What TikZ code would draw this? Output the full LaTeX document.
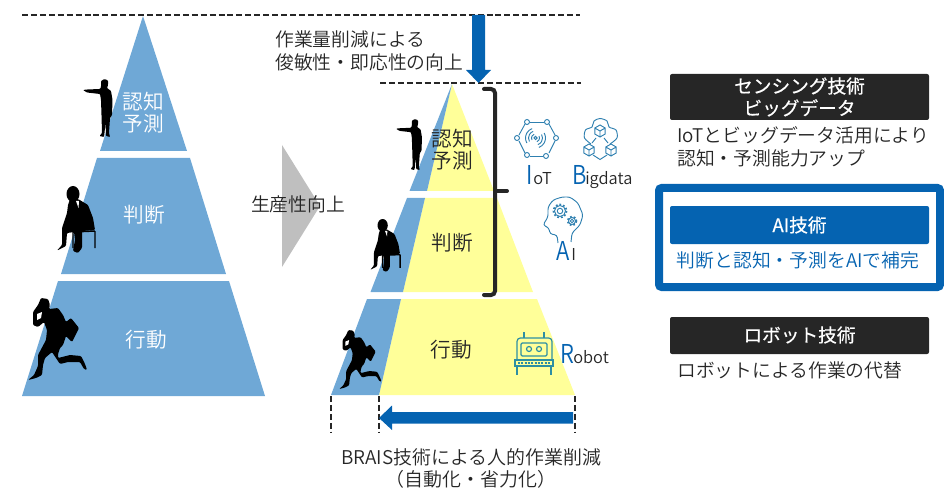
\documentclass[tikz,border=0pt]{standalone}
\usepackage{fontspec}
\setmainfont{Noto Sans CJK JP DemiLight}
\newfontfamily\medfont[FakeBold=0.5]{Noto Sans CJK JP}
\usetikzlibrary{arrows.meta}
\definecolor{pyblue}{HTML}{6FA8D6}
\definecolor{pyyellow}{HTML}{FFFF99}
\definecolor{brblue}{HTML}{0563B1}
\definecolor{ink}{HTML}{262626}
\definecolor{icon}{HTML}{2F80B0}
\definecolor{tealicon}{HTML}{2E8FA3}
\definecolor{arrowgray}{HTML}{BFBFBF}
\newcommand{\pointman}{%
  \fill[black,rounded corners=0.6pt] (83,90)--(87,89.5)--(100,89)--(101,87)--(101,81)--(104.5,79)--(108,80.5)--(108,85)--(107,88)--(111,91)--(112.5,100)--(112,115)--(110,118)--(109,133)--(110,137)--(106,136)--(105.5,122)--(104.5,133)--(104,137)--(99.5,136)--(102,133)--(101.5,115)--(101,100)--(100,94)--(87,92.5)--cycle;}
\newcommand{\sitman}{%
  \fill[black] (73,194) ellipse [x radius=6.5,y radius=8];
  \fill[black,rounded corners=0.8pt] (70,199)--(78,199)--(88,205)--(93,218)--(95,230)--(82,231)--(82,248)--(78,253)--(73,251)--(75,240)--(74,232)--(67,233)--(66,246)--(57,250.5)--(62,245)--(62,228)--(67,213)--(68,205)--cycle;
  \draw[black,line width=1.1pt] (73,232)--(73,248) (95,231)--(95,248) (73,232)--(95,231);
  \fill[white] (76,201)--(79,201)--(78.5,208)--cycle;}
\newcommand{\runman}{%
  \fill[black,rounded corners=0.8pt] (41,298)--(48,299)--(50,305)--(49,309)--(58,308)--(63,315)--(66,322)--(71,318)--(79,328)--(72,342)--(66,336)--(63,345)--(60,348)--(58,354)--(58,358)--(70,355)--(81,356)--(85,364)--(87,370)--(84,369)--(80,362)--(68,362)--(60,364)--(56,358)--(52,352)--(45,358)--(43,365)--(42,375)--(36,378)--(28,380)--(34,375)--(38,366)--(38,355)--(46,340)--(47,330)--(44,322)--(38,327)--(33,325)--(33,312)--(38,305)--cycle;
  \fill[white] (37,314)--(42,312)--(41,318)--(37,320)--cycle;}
\newcommand{\cubeicon}[2]{%
  \begin{scope}[shift={(#1,#2)}]
  \draw (0,-6)--(5.2,-3)--(5.2,3)--(0,6)--(-5.2,3)--(-5.2,-3)--cycle (0,0)--(0,6) (0,0)--(5.2,-3) (0,0)--(-5.2,-3);
  \end{scope}}
\newcommand{\gearicon}[3]{%
  \draw (#1,#2) circle [radius=#3];
  \draw (#1,#2) circle [radius=#3*0.5];
  \draw[line width=1.3pt,dash pattern=on 1.3pt off 1.5pt] (#1,#2) circle [radius=#3+1];}
\tikzset{
  lab/.style={inner sep=0pt,text=ink,font=\fontsize{14.1pt}{17pt}\selectfont},
  pylab/.style={inner sep=0pt,align=center,font=\fontsize{15.5pt}{16.5pt}\selectfont},
  headlab/.style={inner sep=0pt,align=center,text=white,font=\medfont\fontsize{14pt}{16.5pt}\selectfont},
  headbox/.style={fill=ink,rounded corners=1.5pt},
  guide/.style={ink,line width=1.4pt,dash pattern=on 4.5pt off 2.2pt},
  iconline/.style={icon,line width=0.7pt},
  biglet/.style={inner sep=0pt,anchor=base west,text=brblue,xscale=.85,font=\fontsize{19.5pt}{21pt}\selectfont},
  smalllet/.style={inner sep=0pt,anchor=base west,text=ink,font=\fontsize{12.3pt}{14pt}\selectfont},
}
\begin{document}
\begin{tikzpicture}[x=0.75pt,y=-0.75pt]
\useasboundingbox (0,0) rectangle (944,502);
% left pyramid
\fill[pyblue] (143,16)--(187,151)--(100,151)--cycle;
\fill[pyblue] (97,158)--(190,158)--(226,274)--(61,274)--cycle;
\fill[pyblue] (58,281)--(229,281)--(265,396)--(22,396)--cycle;
\node[pylab,text=white] (a1) at (143,113) {認知\\予測};
\node[pylab,text=white] (a2) at (144,215) {判断};
\node[pylab,text=white] (a3) at (146,340) {行動};
\pointman
\sitman
\runman
% guides
\draw[guide] (22,15)--(580,15);
\draw[guide] (380,83)--(581,83);
% down arrow
\fill[brblue] (472,15)--(485,15)--(485,70)--(491,70)--(478.5,83)--(466,70)--(472,70)--cycle;
\node[lab,anchor=west] (t1) at (275,39) {作業量削減による};
\node[lab,anchor=west] (t2) at (275,62) {俊敏性・即応性の向上};
% gray arrow
\fill[arrowgray] (282,145)--(320,206)--(282,267)--cycle;
\node[lab] (t3) at (298,204) {生産性向上};
% right pyramid
\fill[pyyellow] (452,84)--(494,191)--(427,191)--cycle;
\fill[pyyellow] (425,198)--(497,198)--(533,292)--(403,292)--cycle;
\fill[pyyellow] (401,299)--(537,299)--(575,395)--(379,395)--cycle;
\fill[pyblue] (452,84)--(427,191)--(409.5,191)--cycle;
\fill[pyblue] (407,198)--(425,198)--(403,292)--(370.5,292)--cycle;
\fill[pyblue] (367,299)--(401,299)--(379,395)--(331,395)--cycle;
\node[pylab,text=ink] (b1) at (452,150) {認知\\予測};
\node[pylab,text=ink] (b2) at (452,243) {判断};
\node[pylab,text=ink] (b3) at (451,350) {行動};
\begin{scope}[shift={(396,119)},scale=.88,shift={(-83,-79)}]\pointman\end{scope}
\begin{scope}[shift={(370,219)},scale=.79,shift={(-57,-186)}]\sitman\end{scope}
\begin{scope}[shift={(339,330)},scale=.72,shift={(-28,-298)}]\runman\end{scope}
% bracket
\draw[ink,line width=3pt,rounded corners=3pt,line cap=round] (484,89)--(495,89)--(495,295)--(484,295);
\draw[ink,line width=3pt,line cap=round] (495,191)--(507,191);
% bottom guides and arrow
\draw[guide] (331,396)--(331,433);
\draw[guide] (379,396)--(379,433);
\draw[guide] (575,396)--(575,433);
\fill[brblue] (573,412)--(573,423.5)--(392,423.5)--(392,430)--(379,418)--(392,405.5)--(392,412)--cycle;
\node[lab,font=\fontsize{14.2pt}{16.5pt}\selectfont,align=center] (t4) at (471,468) {BRAIS技術による人的作業削減\\（自動化・省力化）};
% IoT icon
\begin{scope}[iconline]
\foreach \a/\b/\c/\d in {530/122/544/122,549/124/555/135,555/141/549/153,543/156/530/156,525/153/519/141,519/135/525/124}{\draw (\a,\b)--(\c,\d);}
\foreach \p/\q in {527/122,547/122,556/138,546/156,527/155,517/138}{\draw (\p,\q) circle [radius=2.5];}
\draw (535.5,138) circle [radius=1.6];
\foreach \r in {4,7,10}{
  \draw (535.5,138) ++(150:\r) arc[start angle=150,end angle=250,radius=\r];
  \draw (535.5,138) ++(-30:\r) arc[start angle=-30,end angle=70,radius=\r];}
% Bigdata icon
\draw plot[smooth] coordinates {(591,144) (584.5,138) (585.5,130) (592,127) (594,121) (600,118.5) (607,121) (609,127) (616,130) (617,138) (610,144)};
\cubeicon{600}{131}
\cubeicon{589}{150}
\cubeicon{611}{150}
\draw (593,155)--(600,159.5)--(607,155) (596,138)--(592,143) (604,138)--(608,143);
% AI icon
\draw[rounded corners=2pt] (558,243)--(557,235)--(550,234)--(549,228)--(543,225)--(548,217)--(548,207)--(553,200)--(562,197)--(570,197)--(578,203)--(583,215)--(580,225)--(572,233)--(571,242);
\gearicon{560}{211}{5.5}
\gearicon{572}{221}{3.5}
\end{scope}
\node[biglet] (i1) at (526,185) {I};
\node[smalllet] (i2) at (533,185) {oT};
\node[biglet] (d1) at (572.5,185) {B};
\node[smalllet] (d2) at (585,185) {igdata};
\node[biglet] (h1) at (556,260) {A};
\node[smalllet] (h2) at (571,260) {I};
\node[biglet] (r1) at (560.5,363) {R};
\node[smalllet] (r2) at (573,363) {obot};
% robot icon
\begin{scope}[tealicon,line width=0.9pt]
\draw[rounded corners=2.5pt] (517,360)--(517,338)--(552,338)--(552,360);
\draw[rounded corners=1pt] (521,343) rectangle (547,356);
\draw (529,349) circle [radius=2.5] (539,349) circle [radius=2.5];
\draw (524,332)--(524,338) (544,332)--(544,338);
\draw (515,360) rectangle (553,366);
\draw[dash pattern=on 1.5pt off 1pt] (518,363)--(550,363);
\draw (517,366)--(517,375) (551,366)--(551,375);
\end{scope}
% right panels
\fill[headbox] (670,74) rectangle (929,120);
\node[headlab] (p1) at (799.5,97) {センシング技術\\ビッグデータ};
\node[lab,anchor=west,align=left] (p2) at (677,147) {IoTとビッグデータ活用により\\認知・予測能力アップ};
\draw[brblue,line width=6pt,rounded corners=2pt,fill=white] (659,188) rectangle (940,287);
\fill[brblue,rounded corners=1.5pt] (670,206) rectangle (929,244);
\node[headlab] (p3) at (799.5,225) {AI技術};
\node[lab,text=brblue] (p4) at (798,260) {判断と認知・予測をAIで補完};
\fill[headbox] (670,317) rectangle (929,354);
\node[headlab] (p5) at (799.5,335) {ロボット技術};
\node[lab,anchor=west] (p6) at (677,370) {ロボットによる作業の代替};
\end{tikzpicture}
\end{document}
